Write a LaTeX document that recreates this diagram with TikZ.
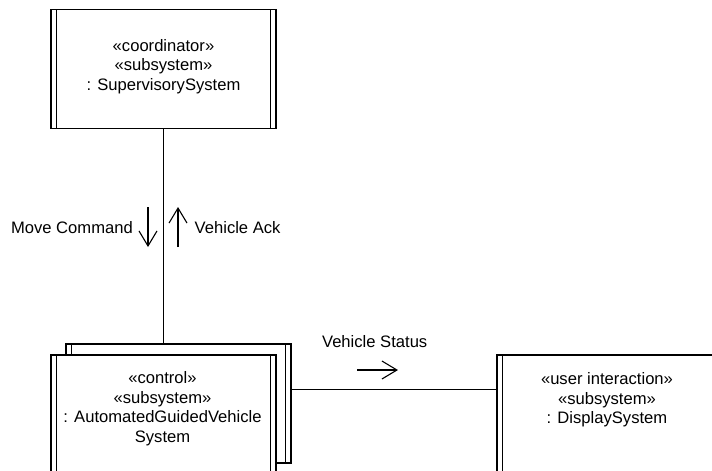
\documentclass[tikz,border=0pt]{standalone}
\usepackage{fontspec}
\setmainfont{Liberation Sans}
\usetikzlibrary{arrows.meta}

\begin{document}
\begin{tikzpicture}[
    x=1pt, y=-1pt,
    objbox/.style={draw, line width=1.2pt, fill=white, minimum width=225pt, minimum height=119pt, inner sep=0pt,
        path picture={
            \draw[line width=1.1pt] ([xshift=5.5pt]path picture bounding box.north west) -- ([xshift=5.5pt]path picture bounding box.south west);
            \draw[line width=1.1pt] ([xshift=-5.5pt]path picture bounding box.north east) -- ([xshift=-5.5pt]path picture bounding box.south east);
        }},
    objtext/.style={align=center, inner sep=0pt, font=\fontsize{16.6}{19.5}\selectfont},
    msgtext/.style={inner sep=0pt, font=\fontsize{16.6}{19.5}\selectfont},
    msg/.style={line width=1.1pt, -{Straight Barb[length=15pt, width=18pt, line width=1.1pt]}},
    link/.style={line width=1.2pt}
]
\useasboundingbox (0,0) rectangle (712,471);
\clip (0,0) rectangle (712,471);

% subsystems
\node[objbox] (super) at (163.5,69) {};
\node[objtext] (supertext) at (163.5,66.5) {«coordinator»\\«subsystem»\\: SupervisorySystem};

\node[objbox] (agvback) at (178.5,403.5) {};
\node[objbox] (agv) at (163.5,414.5) {};
\node[objtext] (agvtext) at (162.5,408.5) {«control»\\«subsystem»\\: AutomatedGuidedVehicle\\System};

\node[objbox] (display) at (609.5,414.5) {};
\node[objtext] (displaytext) at (607,400) {«user interaction»\\«subsystem»\\: DisplaySystem};

% links
\draw[link] (super.south) -- (super.south |- agvback.north);
\coordinate (statusrow) at (0,389.5);
\draw[link] (agvback.east |- statusrow) -- (display.west |- statusrow);

% messages
\coordinate (cmdfrom) at (148,207);
\coordinate (cmdto) at (148,247);
\draw[msg] (cmdfrom) -- (cmdto);
\node[msgtext, anchor=east] (cmdlabel) at (133,227.5) {Move Command};

\coordinate (ackfrom) at (178,247);
\coordinate (ackto) at (178,207);
\draw[msg] (ackfrom) -- (ackto);
\node[msgtext, anchor=west] (acklabel) at (194.5,227.5) {Vehicle Ack};

\coordinate (statusfrom) at (357,370);
\coordinate (statusto) at (398,370);
\draw[msg] (statusfrom) -- (statusto);
\node[msgtext] (statuslabel) at (374.7,341.5) {Vehicle Status};
\end{tikzpicture}
\end{document}
